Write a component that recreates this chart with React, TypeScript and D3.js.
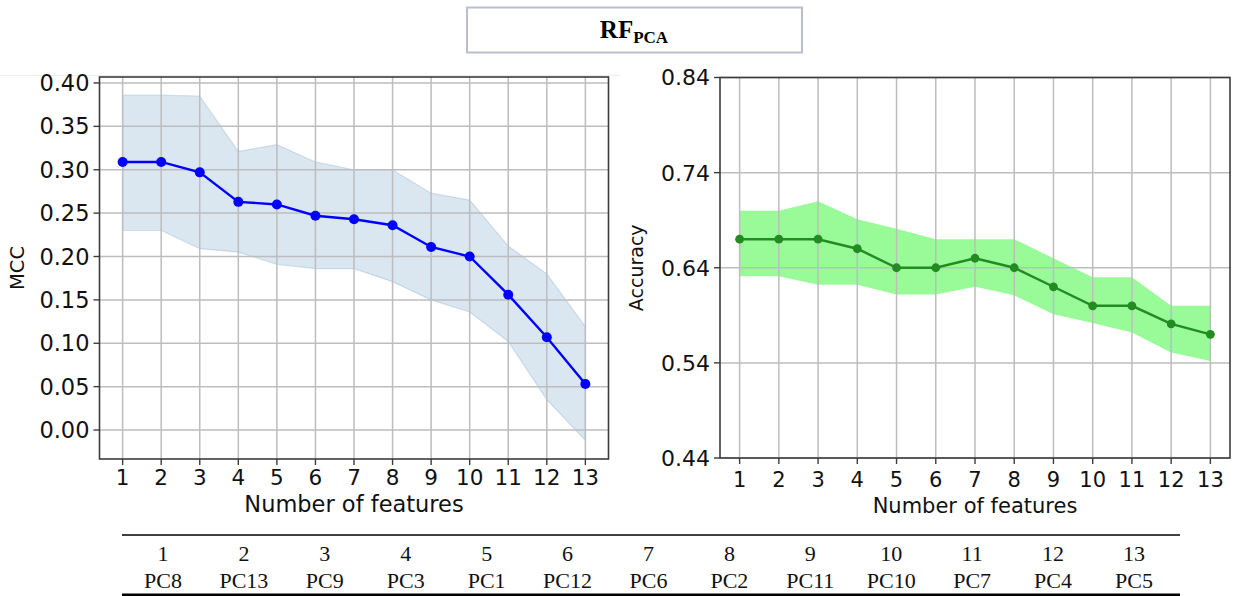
import React from "react";
import * as d3 from "d3";

// Number of selected features (x positions)
const features = [1, 2, 3, 4, 5, 6, 7, 8, 9, 10, 11, 12, 13];

// MCC: mean and band bounds
const mccMean = [0.309, 0.309, 0.297, 0.263, 0.26, 0.247, 0.243, 0.236, 0.211, 0.2, 0.156, 0.107, 0.053];
const mccUpper = [0.386, 0.386, 0.385, 0.321, 0.329, 0.309, 0.3, 0.3, 0.273, 0.265, 0.212, 0.18, 0.119];
const mccLower = [0.23, 0.23, 0.209, 0.205, 0.191, 0.186, 0.186, 0.171, 0.15, 0.136, 0.102, 0.035, -0.012];

// Accuracy: mean and band bounds
const accMean = [0.67, 0.67, 0.67, 0.66, 0.64, 0.64, 0.65, 0.64, 0.62, 0.6, 0.6, 0.581, 0.57];
const accUpper = [0.7, 0.7, 0.71, 0.691, 0.681, 0.67, 0.67, 0.67, 0.65, 0.63, 0.63, 0.6, 0.6];
const accLower = [0.631, 0.631, 0.622, 0.622, 0.612, 0.612, 0.62, 0.611, 0.591, 0.582, 0.572, 0.551, 0.542];

// Tick labels
const mccTicks = [0, 0.05, 0.1, 0.15, 0.2, 0.25, 0.3, 0.35, 0.4];
const accTicks = [0.44, 0.54, 0.64, 0.74, 0.84];

// Feature ranking table
const rankNumbers = ["1", "2", "3", "4", "5", "6", "7", "8", "9", "10", "11", "12", "13"];
const rankComponents = ["PC8", "PC13", "PC9", "PC3", "PC1", "PC12", "PC6", "PC2", "PC11", "PC10", "PC7", "PC4", "PC5"];

const SANS = "'DejaVu Sans', sans-serif";
const SERIF = "'Liberation Serif', 'Times New Roman', serif";
const GRID = "#bdbdbd";
const SPINE = "#3c3c3c";

type PanelProps = {
  x: d3.ScaleLinear<number, number>;
  y: d3.ScaleLinear<number, number>;
  yTicks: number[];
  yFormat: (v: number) => string;
  mean: number[];
  upper: number[];
  lower: number[];
  bandFill: string;
  bandOpacity: number;
  bandStroke: boolean;
  lineColor: string;
  markerR: number;
  yLabel: string;
  yLabelX: number;
  xLabelY: number;
  xTickY: number;
  fontSize: number;
  xLabelSize: number;
};

function Panel(p: PanelProps) {
  const [x0, x1] = p.x.range();
  const [y0, y1] = p.y.range(); // y0 bottom, y1 top
  const pts = features.map((f, i) => ({ f, m: p.mean[i], u: p.upper[i], l: p.lower[i] }));
  const area = d3
    .area<(typeof pts)[number]>()
    .x((d) => p.x(d.f))
    .y0((d) => p.y(d.l))
    .y1((d) => p.y(d.u));
  const line = d3
    .line<(typeof pts)[number]>()
    .x((d) => p.x(d.f))
    .y((d) => p.y(d.m));
  const cx = (x0 + x1) / 2;
  const cy = (y0 + y1) / 2;
  return (
    <g>
      <path
        d={area(pts) || ""}
        fill={p.bandFill}
        fillOpacity={p.bandOpacity}
        stroke={p.bandStroke ? p.bandFill : "none"}
        strokeOpacity={p.bandOpacity}
        strokeWidth={1.2}
      />
      {/* grid */}
      {features.map((f) => (
        <line key={"gx" + f} x1={p.x(f)} x2={p.x(f)} y1={y0} y2={y1} stroke={GRID} strokeWidth={1.5} />
      ))}
      {p.yTicks.map((t) => (
        <line key={"gy" + t} x1={x0} x2={x1} y1={p.y(t)} y2={p.y(t)} stroke={GRID} strokeWidth={1.5} />
      ))}
      <path d={line(pts) || ""} fill="none" stroke={p.lineColor} strokeWidth={2.4} />
      {pts.map((d) => (
        <circle key={"m" + d.f} cx={p.x(d.f)} cy={p.y(d.m)} r={p.markerR} fill={p.lineColor} />
      ))}
      {/* frame */}
      <rect x={x0} y={y1} width={x1 - x0} height={y0 - y1} fill="none" stroke={SPINE} strokeWidth={1.6} />
      {/* x ticks */}
      {features.map((f) => (
        <g key={"xt" + f}>
          <line x1={p.x(f)} x2={p.x(f)} y1={y0} y2={y0 + 6} stroke={SPINE} strokeWidth={1.4} />
          <text x={p.x(f)} y={p.xTickY} textAnchor="middle" fontFamily={SANS} fontSize={p.fontSize} fill="#111">
            {f}
          </text>
        </g>
      ))}
      {/* y ticks */}
      {p.yTicks.map((t) => (
        <g key={"yt" + t}>
          <line x1={x0 - 6} x2={x0} y1={p.y(t)} y2={p.y(t)} stroke={SPINE} strokeWidth={1.4} />
          <text
            x={x0 - 10}
            y={p.y(t)}
            dy="0.36em"
            textAnchor="end"
            fontFamily={SANS}
            fontSize={p.fontSize + 1}
            fill="#111"
          >
            {p.yFormat(t)}
          </text>
        </g>
      ))}
      <text x={cx} y={p.xLabelY} textAnchor="middle" fontFamily={SANS} fontSize={p.xLabelSize} fill="#111">
        Number of features
      </text>
      <text
        transform={`translate(${p.yLabelX},${cy}) rotate(-90)`}
        textAnchor="middle"
        fontFamily={SANS}
        fontSize={p.fontSize - 2}
        fill="#111"
      >
        {p.yLabel}
      </text>
    </g>
  );
}

export default function App() {
  const W = 1249;
  const H = 596;

  const xL = d3.scaleLinear().domain([0.4, 13.6]).range([99.5, 608.5]);
  const yL = d3.scaleLinear().domain([-0.0334, 0.4069]).range([459, 77]);
  const xR = d3.scaleLinear().domain([0.5, 13.5]).range([720, 1230]);
  const yR = d3.scaleLinear().domain([0.44, 0.84]).range([458, 77.5]);

  const tableX = d3.scaleLinear().domain([1, 13]).range([163, 1134]);
  const f2 = d3.format(".2f");

  return (
    <svg
      width={W}
      height={H}
      viewBox={`0 0 ${W} ${H}`}
      style={{ position: "absolute", left: 0, top: 0, background: "#fff" }}
    >
      <rect x={0} y={0} width={W} height={H} fill="#fff" />

      {/* title box */}
      <rect x={467} y={7.5} width={335} height={45} fill="#fff" stroke="#b9bdcd" strokeWidth={2} />
      <text x={634} y={38} textAnchor="middle" fontFamily={SERIF} fontWeight="bold" fill="#000">
        <tspan fontSize={25}>RF</tspan>
        <tspan fontSize={17} dy={5}>
          PCA
        </tspan>
      </text>

      <line x1={0} x2={620} y1={75.5} y2={75.5} stroke="#ededed" strokeWidth={1} />

      <Panel
        x={xL}
        y={yL}
        yTicks={mccTicks}
        yFormat={f2}
        mean={mccMean}
        upper={mccUpper}
        lower={mccLower}
        bandFill="#4682b4"
        bandOpacity={0.2}
        bandStroke={true}
        lineColor="#0000ff"
        markerR={5}
        yLabel="MCC"
        yLabelX={24}
        xLabelY={512}
        xTickY={485}
        fontSize={21.5}
        xLabelSize={22.5}
      />
      <Panel
        x={xR}
        y={yR}
        yTicks={accTicks}
        yFormat={f2}
        mean={accMean}
        upper={accUpper}
        lower={accLower}
        bandFill="#98fb98"
        bandOpacity={1}
        bandStroke={false}
        lineColor="#228b22"
        markerR={4.4}
        yLabel="Accuracy"
        yLabelX={643}
        xLabelY={513}
        xTickY={487}
        fontSize={21}
        xLabelSize={21}
      />

      {/* feature ranking table */}
      <line x1={122} x2={1180} y1={535} y2={535} stroke="#000" strokeWidth={1.5} />
      {rankNumbers.map((n, i) => (
        <text key={"n" + n} x={tableX(i + 1)} y={561} textAnchor="middle" fontFamily={SERIF} fontSize={22} fill="#111">
          {n}
        </text>
      ))}
      {rankComponents.map((c, i) => (
        <text key={"c" + c} x={tableX(i + 1)} y={588} textAnchor="middle" fontFamily={SERIF} fontSize={22} fill="#111">
          {c}
        </text>
      ))}
      <line x1={122} x2={1180} y1={595} y2={595} stroke="#000" strokeWidth={3} />
    </svg>
  );
}
